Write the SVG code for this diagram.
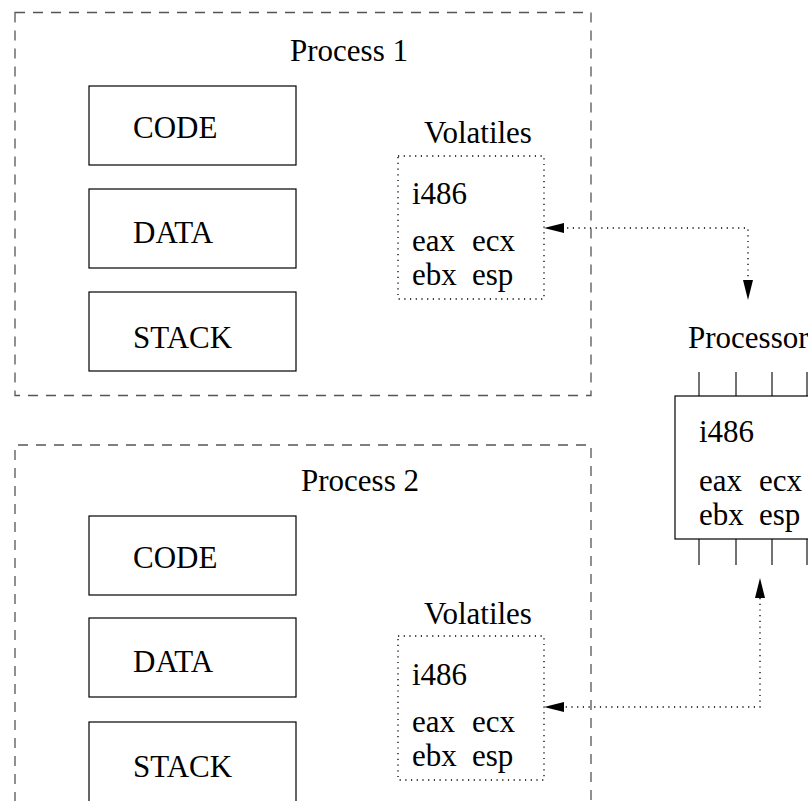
<svg xmlns="http://www.w3.org/2000/svg" width="808" height="801" viewBox="0 0 808 801">
<style>
text{font-family:"Liberation Serif","Times New Roman",Times,serif;font-size:31px;fill:#000}
.proc{fill:none;stroke:#555;stroke-width:1.3;stroke-dasharray:10 8}
.box{fill:#fff;stroke:#000;stroke-width:1.2}
.vol{fill:none;stroke:#000;stroke-width:1.3;stroke-dasharray:1.2 4.5}
.pin{stroke:#000;stroke-width:1.1}
.conn{fill:none;stroke:#000;stroke-width:1.3;stroke-dasharray:1.2 4.5}
</style>
<rect width="808" height="801" fill="#fff"/>
<g font-family="Liberation Serif, Times New Roman, serif" font-size="31">

<g id="process1">
<rect class="proc" x="15" y="12.5" width="576" height="383"/>
<text x="290" y="61">Process 1</text>
</g>
<g id="code1"><rect class="box" x="89" y="86" width="207" height="79"/><text x="133" y="138">CODE</text></g>
<g id="data1"><rect class="box" x="89" y="189" width="207" height="79"/><text x="133" y="243">DATA</text></g>
<g id="stack1"><rect class="box" x="89" y="292" width="207" height="79"/><text x="133" y="348">STACK</text></g>
<g id="volatiles1">
<text x="424" y="143">Volatiles</text>
<rect class="vol" x="398" y="156" width="146" height="143"/>
<text x="412" y="204">i486</text>
<text x="412" y="251">eax</text><text x="472" y="251">ecx</text>
<text x="412" y="285">ebx</text><text x="472" y="285">esp</text>
</g>

<g id="process2">
<path class="proc" d="M15,820 L15,445 L591,445 L591,820"/>
<text x="301" y="491">Process 2</text>
</g>
<g id="code2"><rect class="box" x="89" y="516" width="207" height="79"/><text x="133" y="568">CODE</text></g>
<g id="data2"><rect class="box" x="89" y="618" width="207" height="79"/><text x="133" y="672">DATA</text></g>
<g id="stack2"><rect class="box" x="89" y="722" width="207" height="100"/><text x="133" y="777">STACK</text></g>
<g id="volatiles2">
<text x="424" y="624">Volatiles</text>
<rect class="vol" x="398" y="636" width="146" height="144"/>
<text x="412" y="685">i486</text>
<text x="412" y="732">eax</text><text x="472" y="732">ecx</text>
<text x="412" y="766">ebx</text><text x="472" y="766">esp</text>
</g>

<g id="processor">
<text x="688" y="348">Processor</text>
<path class="pin" d="M699,372V396M736,372V396M772,372V396M807,372V396M699,539V565M736,539V565M772,539V565M807,539V565"/>
<rect class="box" x="675" y="396" width="160" height="143"/>
<text x="699" y="442">i486</text>
<text x="699" y="491">eax</text><text x="759" y="491">ecx</text>
<text x="699" y="525">ebx</text><text x="759" y="525">esp</text>
</g>

<g id="connectors">
<path class="conn" d="M748,282 L748,228 L564,228"/>
<path d="M564,223 L544,228 L564,233 Z" fill="#000"/>
<path d="M743,280 L748,300 L753,280 Z" fill="#000"/>
<path class="conn" d="M760,598 L760,707 L564,707"/>
<path d="M564,702 L544,707 L564,712 Z" fill="#000"/>
<path d="M755,598 L760,578 L765,598 Z" fill="#000"/>
</g>
</g>
</svg>
